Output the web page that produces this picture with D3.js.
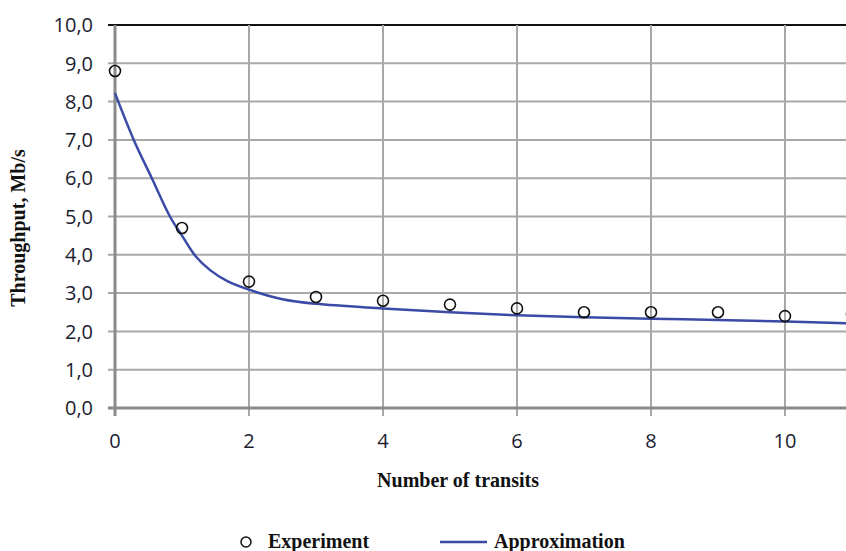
<!DOCTYPE html>
<html>
<head>
<meta charset="utf-8">
<script src="https://cdn.jsdelivr.net/npm/d3@7"></script>
<style>
  html, body { margin: 0; padding: 0; background: #fff; }
  svg { display: block; }
</style>
</head>
<body>
<svg id="chart" width="846" height="551"></svg>
<script>
// Data
const expX = [0, 1, 2, 3, 4, 5, 6, 7, 8, 9, 10, 11];
const expY = [8.8, 4.7, 3.3, 2.9, 2.8, 2.7, 2.6, 2.5, 2.5, 2.5, 2.4, 2.45];
const approxX = [0, 0.28, 0.55, 0.82, 1, 1.2, 1.42, 1.67, 2, 2.5, 3, 4, 5, 6, 7, 8, 9, 10, 11];
const approxY = [8.22, 7.0, 6.0, 5.0, 4.5, 3.97, 3.6, 3.32, 3.09, 2.84, 2.72, 2.6, 2.5, 2.42, 2.37, 2.33, 2.3, 2.26, 2.21];
const yTicks = [0, 1, 2, 3, 4, 5, 6, 7, 8, 9, 10];
const xTicks = [0, 2, 4, 6, 8, 10];
const xLabel = "Number of transits";
const yLabel = "Throughput, Mb/s";
const legendLabels = ["Experiment", "Approximation"];

const svg = d3.select("#chart");
const x = d3.scaleLinear().domain([0, 10]).range([115, 785]);
const y = d3.scaleLinear().domain([0, 10]).range([408, 25]);
const xRight = 900;

const tickFont = "'Open Sans', 'Liberation Sans', sans-serif";
const serif = "'Liberation Serif', 'DejaVu Serif', serif";
const tickColor = "#1c1c30";

// Horizontal gridlines (with tick stubs to the left)
svg.append("g").selectAll("line").data(yTicks.filter(d => d > 0)).join("line")
  .attr("x1", 108).attr("x2", xRight)
  .attr("y1", d => y(d)).attr("y2", d => y(d))
  .attr("stroke", d => d === 10 ? "#111" : "#a8a8a8")
  .attr("stroke-width", d => d === 10 ? 1.8 : 2);

// Vertical gridlines (with tick stubs below)
svg.append("g").selectAll("line").data(xTicks.filter(d => d > 0)).join("line")
  .attr("x1", d => x(d)).attr("x2", d => x(d))
  .attr("y1", y(10)).attr("y2", 416)
  .attr("stroke", "#a8a8a8").attr("stroke-width", 2);

// Axes lines
svg.append("line").attr("x1", x(0)).attr("x2", x(0)).attr("y1", y(10)).attr("y2", 416)
  .attr("stroke", "#8a8a8a").attr("stroke-width", 3);
svg.append("line").attr("x1", 108).attr("x2", xRight).attr("y1", y(0)).attr("y2", y(0))
  .attr("stroke", "#8a8a8a").attr("stroke-width", 3);

// Y tick labels
svg.append("g").selectAll("text").data(yTicks).join("text")
  .attr("x", 93).attr("y", d => y(d)).attr("dy", "0.36em")
  .attr("text-anchor", "end")
  .attr("font-family", tickFont).attr("font-size", 20)
  .attr("fill", tickColor)
  .text(d => d3.format(".1f")(d).replace(".", ","));

// X tick labels
svg.append("g").selectAll("text").data(xTicks).join("text")
  .attr("x", d => x(d)).attr("y", 448)
  .attr("text-anchor", "middle")
  .attr("font-family", tickFont).attr("font-size", 20)
  .attr("fill", tickColor)
  .text(d => d);

// Approximation line
const line = d3.line().x(d => x(d[0])).y(d => y(d[1])).curve(d3.curveCatmullRom.alpha(0.5));
svg.append("path")
  .datum(approxX.map((v, i) => [v, approxY[i]]))
  .attr("d", line)
  .attr("fill", "none").attr("stroke", "#3a4aa6").attr("stroke-width", 2.5);

// Experiment points
svg.append("g").selectAll("circle").data(expX.map((v, i) => [v, expY[i]])).join("circle")
  .attr("cx", d => x(d[0])).attr("cy", d => y(d[1])).attr("r", 5.5)
  .attr("fill", "none").attr("stroke", "#111").attr("stroke-width", 1.6);

// Axis titles
svg.append("text")
  .attr("x", 458).attr("y", 487).attr("text-anchor", "middle")
  .attr("font-family", serif).attr("font-weight", "bold").attr("font-size", 20)
  .attr("fill", "#111").text(xLabel);

svg.append("text")
  .attr("transform", "translate(25,228) rotate(-90)")
  .attr("text-anchor", "middle")
  .attr("font-family", serif).attr("font-weight", "bold").attr("font-size", 20)
  .attr("fill", "#111").text(yLabel);

// Legend
svg.append("circle").attr("cx", 246).attr("cy", 542).attr("r", 5)
  .attr("fill", "none").attr("stroke", "#111").attr("stroke-width", 1.5);
svg.append("text").attr("x", 268).attr("y", 548)
  .attr("font-family", serif).attr("font-weight", "bold").attr("font-size", 20)
  .attr("fill", "#111").text(legendLabels[0]);
svg.append("line").attr("x1", 440).attr("x2", 487).attr("y1", 542).attr("y2", 542)
  .attr("stroke", "#3a4aa6").attr("stroke-width", 2.5);
svg.append("text").attr("x", 494).attr("y", 548)
  .attr("font-family", serif).attr("font-weight", "bold").attr("font-size", 20)
  .attr("fill", "#111").text(legendLabels[1]);
</script>
</body>
</html>
